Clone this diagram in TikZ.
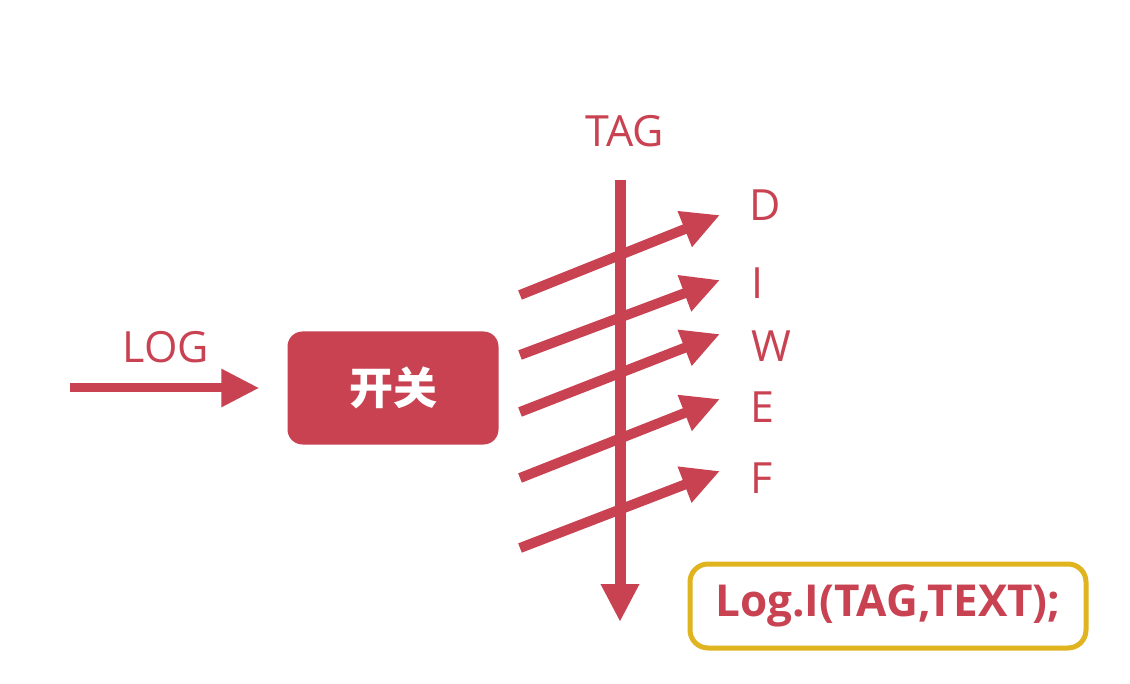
\documentclass[tikz,border=0pt]{standalone}
\usepackage{fontspec}
\setmainfont{Open Sans}
\newfontfamily\cjk{Noto Sans CJK SC}
\usetikzlibrary{arrows.meta}

\definecolor{logred}{RGB}{200,66,82}
\definecolor{logyellow}{RGB}{224,180,30}

\tikzset{
  fat/.style={draw=logred, line width=10pt, -{Triangle[length=38pt, width=36pt]}},
  lbl/.style={text=logred, font=\fontsize{43}{46}\selectfont, inner sep=0pt},
}

\begin{document}
\begin{tikzpicture}[x=1pt, y=-1pt]
\useasboundingbox (0,0) rectangle (1130,684);

%% input %%
\coordinate (in) at (70,388);
\node[draw=none, fill=logred, rounded corners=15pt, minimum width=211pt, minimum height=113pt,
      text=white, font=\cjk\bfseries\fontsize{44}{48}\selectfont] (switch) at (393,388) {开关};
\draw[fat, line width=9pt, shorten >=28pt] (in) -- (switch.west);
\node[lbl] (log) at (166,347) {LOG};

%% tag %%
\node[lbl] (tag) at (625,131) {TAG};
\coordinate (top) at (620,180);
\coordinate (bottom) at (620,622);
\draw[fat, line width=11pt] (top) -- (bottom);

%% levels %%
\foreach \i/\ys/\ye/\lx/\ly/\t in {1/295/215/765/205/D, 2/355/280/757/283/I, 3/412/334/771/346/W,
                                  4/478/399/762/407/E, 5/548/471/762/478/F}{
  \coordinate (s\i) at (520,\ys);
  \coordinate (e\i) at (720,\ye);
  \draw[fat] (s\i) -- (e\i);
  \node[lbl] (lv\i) at (\lx,\ly) {\t};
}

%% call %%
\node[draw=logyellow, line width=5pt, rounded corners=18pt, minimum width=396pt, minimum height=84pt,
      text=logred, font=\bfseries\fontsize{44}{48}\selectfont] (call) at (888,606) {Log.I(TAG,TEXT);};

\end{tikzpicture}
\end{document}
